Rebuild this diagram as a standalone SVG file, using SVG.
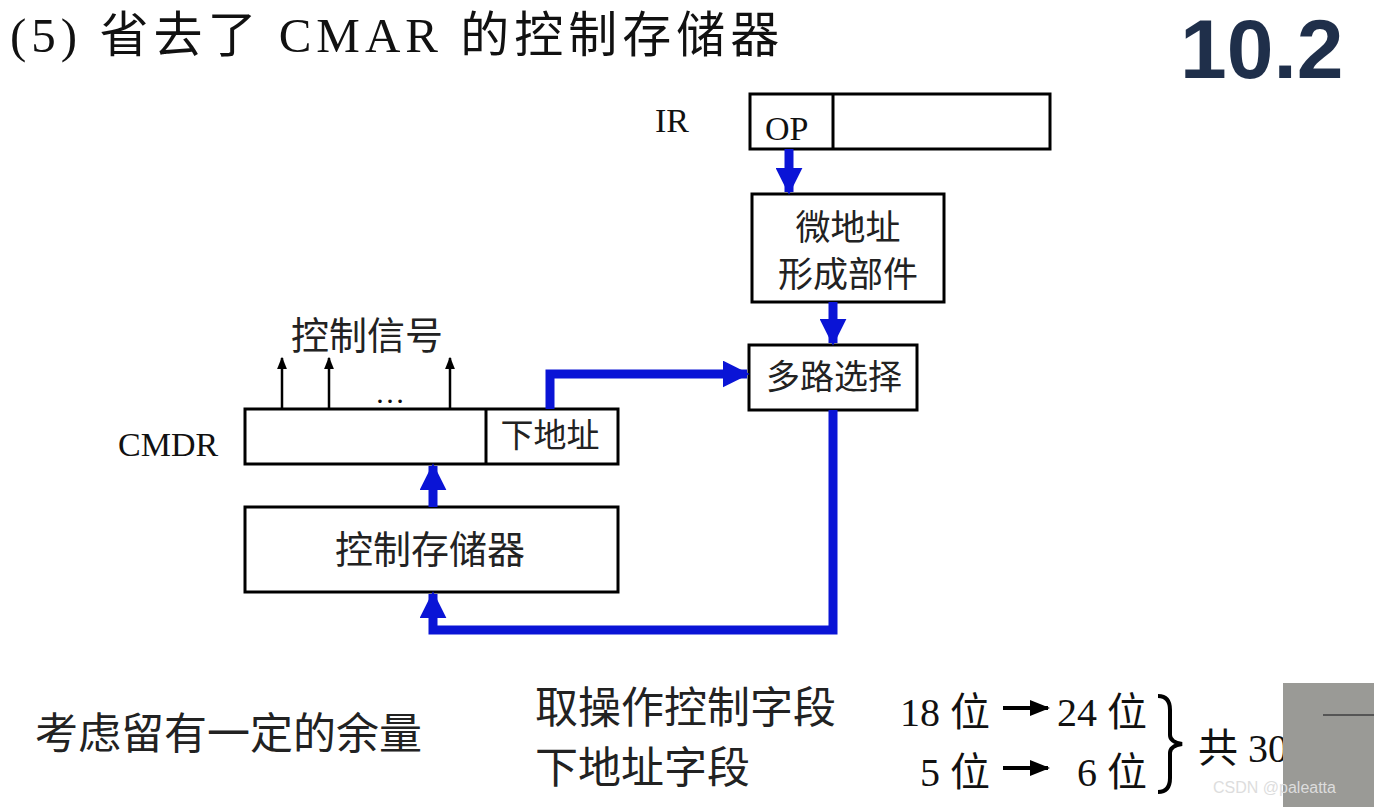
<svg xmlns="http://www.w3.org/2000/svg" width="1374" height="807" viewBox="0 0 1374 807">
<defs>
<marker id="bh" viewBox="0 0 10 10" refX="9" refY="5" markerWidth="3" markerHeight="3" orient="auto" markerUnits="strokeWidth"><path d="M0,0 L10,5 L0,10 z" fill="#0a14d6"/></marker>
<marker id="kh" viewBox="0 0 10 10" refX="9" refY="5" markerWidth="5" markerHeight="5" orient="auto" markerUnits="strokeWidth"><path d="M0,1 L10,5 L0,9 z" fill="#000"/></marker>
</defs>
<style>
.b{fill:#fff;stroke:#000;stroke-width:3}
.t{font-family:"Liberation Serif","Noto Sans CJK SC",serif;fill:#111}
.c{font-family:"Noto Sans CJK SC",sans-serif;fill:#222}
.bl{fill:none;stroke:#0a14d6;stroke-width:9;marker-end:url(#bh)}
.k{stroke:#000;stroke-width:2.5;marker-end:url(#kh)}
</style>
<rect width="1374" height="807" fill="#fff"/>
<text class="t" x="10" y="52" font-size="49" letter-spacing="5">(5) 省去了 CMAR 的控制存储器</text>
<text x="1180" y="78" font-family="Liberation Sans,sans-serif" font-weight="bold" font-size="84" fill="#1f2f4a">10.2</text>
<g id="ir"><text class="t" x="655" y="132" font-size="34">IR</text>
<rect class="b" x="750" y="94" width="300" height="55"/><line x1="833" y1="94" x2="833" y2="149" stroke="#000" stroke-width="3"/>
<text class="t" x="765" y="140" font-size="34">OP</text></g>
<g id="wdz"><rect class="b" x="752" y="194" width="192" height="108"/>
<text class="c" x="848" y="240" font-size="35" text-anchor="middle">微地址</text>
<text class="c" x="848" y="287" font-size="35" text-anchor="middle">形成部件</text></g>
<g id="dlxz"><rect class="b" x="749" y="345" width="168" height="65"/>
<text class="c" x="834" y="389" font-size="34" text-anchor="middle">多路选择</text></g>
<g id="cmdr"><text class="t" x="118" y="456" font-size="34">CMDR</text>
<rect class="b" x="245" y="409" width="373" height="55"/><line x1="486" y1="409" x2="486" y2="464" stroke="#000" stroke-width="3"/>
<text class="c" x="550" y="447" font-size="33" text-anchor="middle">下地址</text></g>
<g id="kzccq"><rect class="b" x="245" y="507" width="373" height="85"/>
<text class="c" x="430" y="563" font-size="38" text-anchor="middle">控制存储器</text></g>
<g id="signals"><text class="c" x="367" y="349" font-size="38" text-anchor="middle">控制信号</text>
<text class="t" x="390" y="403" font-size="30" text-anchor="middle">…</text></g>
<g id="connectors">
<line class="k" x1="282" y1="409" x2="282" y2="358"/>
<line class="k" x1="329" y1="409" x2="329" y2="358"/>
<line class="k" x1="450" y1="409" x2="450" y2="358"/>
<path class="bl" d="M789,149 V192"/>
<path class="bl" d="M833,302 V343"/>
<path class="bl" d="M550,409 V374 H747"/>
<path class="bl" d="M433,507 V466"/>
<path class="bl" d="M833,410 V630 H433 V594"/>
</g>
<g id="bottom">
<text class="c" x="35" y="749" font-size="43">考虑留有一定的余量</text>
<text class="c" x="535" y="723" font-size="43">取操作控制字段</text>
<text class="c" x="535" y="783" font-size="43">下地址字段</text>
<text class="t" x="900" y="726" font-size="40">18 位</text>
<text class="t" x="920" y="786" font-size="40">5 位</text>
<text class="t" x="1057" y="726" font-size="40">24 位</text>
<text class="t" x="1077" y="786" font-size="40">6 位</text>
<line x1="1003" y1="708" x2="1048" y2="708" stroke="#000" stroke-width="4" marker-end="url(#kh)"/>
<line x1="1003" y1="768" x2="1048" y2="768" stroke="#000" stroke-width="4" marker-end="url(#kh)"/>
<path d="M1158,696 Q1170,696 1170,710 V735 Q1170,742 1182,744 Q1170,746 1170,753 V778 Q1170,792 1158,792" fill="none" stroke="#000" stroke-width="4"/>
<text class="t" x="1198" y="762" font-size="40">共 30</text>
<rect x="1283" y="683" width="91" height="124" fill="#9a9a96"/>
<line x1="1323" y1="715" x2="1374" y2="715" stroke="#555" stroke-width="2"/>
<text x="1213" y="793" font-family="Liberation Sans,sans-serif" font-size="16" fill="#ddd">CSDN @paleatta</text>
</g>
</svg>
